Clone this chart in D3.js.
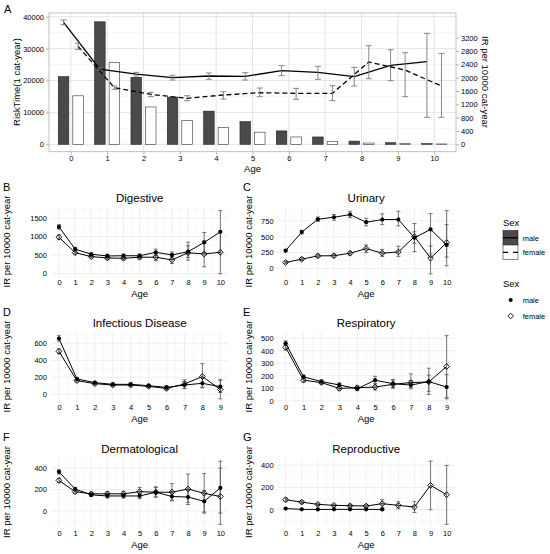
<!DOCTYPE html>
<html>
<head>
<meta charset="utf-8">
<script src="https://cdn.jsdelivr.net/npm/d3@7"></script>
<style>
  body { margin: 0; background: #fff; }
  text { font-family: "Liberation Sans", Arial, sans-serif; fill: #000; }
</style>
</head>
<body>
<svg id="chart" width="550" height="554"></svg>
<script>
/* ---------- data ---------- */
const ages = [0, 1, 2, 3, 4, 5, 6, 7, 8, 9, 10]

// panel A : risk time (bars) and overall IR (lines)
const riskMale = [21200, 38400, 21000, 14800, 10400, 7100, 4200, 2300, 1000, 500, 200]
const riskFemale = [15200, 25700, 11700, 7400, 5300, 3800, 2300, 950, 400, 200, 100]
const irMale = [3660, 2260, 2110, 2000, 2050, 2040, 2210, 2160, 2030, 2370, 2480]
const irMaleLo = [3590, 2220, 2050, 1930, 1950, 1930, 2060, 1950, 1750, 1910, 810]
const irMaleHi = [3730, 2300, 2160, 2070, 2140, 2150, 2360, 2340, 2310, 2840, 3330]
const irFemale = [2940, 1700, 1500, 1380, 1480, 1550, 1530, 1530, 2470, 2230, 1750]
const irFemaleLo = [2850, 1650, 1430, 1310, 1360, 1430, 1350, 1310, 1970, 1430, 810]
const irFemaleHi = [3030, 1750, 1560, 1460, 1580, 1690, 1680, 1760, 2960, 2750, 2730]

// panel B : digestive
const digMale = [1260, 660, 520, 474, 479, 480, 573, 501, 590, 841, 1126]
const digMaleLo = [1200, 610, 480, 430, 430, 430, 490, 420, 430, 570, 560]
const digMaleHi = [1320, 710, 560, 520, 530, 530, 660, 580, 750, 1110, 1700]
const digFemale = [983, 563, 456, 420, 411, 440, 440, 367, 560, 528, 573]
const digFemaleLo = [930, 520, 420, 380, 370, 390, 350, 270, 360, 180, -10]
const digFemaleHi = [1040, 610, 490, 460, 450, 490, 520, 460, 850, 880, 1120]

// panel C : urinary
const uriMale = [281, 573, 775, 806, 848, 728, 770, 770, 484, 614, 370]
const uriMaleLo = [260, 545, 740, 760, 800, 670, 690, 670, 265, 230, 42]
const uriMaleHi = [300, 600, 810, 850, 900, 790, 860, 900, 708, 864, 910]
const uriFemale = [94, 146, 198, 200, 240, 312, 240, 260, 500, 162, 406]
const uriFemaleLo = [80, 125, 175, 175, 210, 250, 190, 190, 396, -85, 180]
const uriFemaleHi = [110, 170, 225, 225, 270, 370, 300, 350, 577, 354, 690]

// panel D : infectious disease (age 0-9)
const infMale = [656, 180, 136, 116, 116, 100, 80, 108, 128, 88]
const infMaleLo = [625, 165, 122, 102, 100, 84, 60, 65, 75, 20]
const infMaleHi = [690, 195, 150, 130, 132, 116, 100, 150, 195, 160]
const infFemale = [505, 160, 124, 108, 108, 92, 68, 120, 208, 56]
const infFemaleLo = [475, 145, 110, 95, 94, 78, 50, 70, 80, -55]
const infFemaleHi = [535, 175, 138, 121, 122, 106, 86, 170, 360, 175]

// panel E : respiratory (age 0-9)
const resMale = [459, 191, 153, 126, 95, 164, 136, 125, 153, 109]
const resMaleLo = [440, 175, 140, 110, 80, 135, 105, 95, 50, 25]
const resMaleHi = [478, 207, 166, 142, 110, 195, 170, 160, 260, 210]
const resFemale = [426, 164, 145, 98, 104, 109, 131, 145, 150, 273]
const resFemaleLo = [405, 150, 132, 85, 90, 85, 100, 105, 75, 15]
const resFemaleHi = [447, 178, 158, 112, 118, 135, 165, 215, 205, 520]

// panel F : dermatological
const derMale = [365, 205, 150, 140, 140, 140, 175, 135, 130, 90, 215]
const derMaleLo = [345, 190, 135, 120, 120, 115, 130, 95, 60, -10, -20]
const derMaleHi = [385, 220, 165, 160, 160, 165, 220, 180, 200, 190, 465]
const derFemale = [285, 180, 160, 160, 160, 180, 175, 175, 205, 165, 135]
const derFemaleLo = [265, 165, 145, 140, 140, 150, 130, 100, 80, -20, -125]
const derFemaleHi = [305, 195, 175, 180, 185, 220, 225, 255, 345, 350, 400]

// panel G : reproductive (male only age 0-6)
const repMale = [10, 3, 2, 3, 3, 3, 2]
const repMaleLo = [5, 0, 0, 0, 0, 0, 0]
const repMaleHi = [15, 6, 5, 6, 6, 6, 5]
const repFemale = [90, 68, 48, 39, 36, 33, 54, 39, 24, 219, 135]
const repFemaleLo = [75, 55, 38, 30, 26, 22, 18, 8, -25, 0, -132]
const repFemaleHi = [105, 80, 58, 48, 46, 44, 90, 72, 75, 437, 399]

const ticksA = [0, 10000, 20000, 30000, 40000]
const ticksIR = [0, 400, 800, 1200, 1600, 2000, 2400, 2800, 3200]

/* ---------- helpers ---------- */
const svg = d3.select("#chart")
const tickCol = "#4d4d4d"

function zip(v, lo, hi) {
  return v.map((d, i) => ({ age: ages[i], v: d, lo: lo[i], hi: hi[i] }))
}

function diamond(s) {
  return "M0," + (-s) + "L" + s + ",0L0," + s + "L" + (-s) + ",0Z"
}

/* ---------- panel A ---------- */
const gA = svg.append("g")
const xA = d3.scaleLinear().domain([-0.6, 10.6]).range([49, 456])
const yL = d3.scaleLinear().domain([-2320, 41160]).range([151.7, 13])
const yR = d3.scaleLinear().domain([-222, 3942]).range([151.7, 13])

// grid
gA.selectAll(".minorA").data([5000, 15000, 25000, 35000]).enter().append("line")
  .attr("x1", xA.range()[0]).attr("x2", xA.range()[1])
  .attr("y1", d => yL(d)).attr("y2", d => yL(d))
  .attr("stroke", "#ececec").attr("stroke-width", 0.5)
gA.selectAll(".majorY").data(ticksA).enter().append("line")
  .attr("x1", xA.range()[0]).attr("x2", xA.range()[1])
  .attr("y1", d => yL(d)).attr("y2", d => yL(d))
  .attr("stroke", "#dedede").attr("stroke-width", 0.8)
gA.selectAll(".majorX").data(ages).enter().append("line")
  .attr("x1", d => xA(d)).attr("x2", d => xA(d))
  .attr("y1", yL.range()[0]).attr("y2", yL.range()[1])
  .attr("stroke", "#dedede").attr("stroke-width", 0.8)

// bars
const bw = xA(0.29) - xA(0)
gA.selectAll(".barM").data(riskMale).enter().append("rect")
  .attr("x", (d, i) => xA(ages[i] - 0.2) - bw / 2)
  .attr("y", d => yL(d)).attr("width", bw)
  .attr("height", d => yL(0) - yL(d))
  .attr("fill", "#4a4a4a").attr("stroke", "#222").attr("stroke-width", 0.6)
gA.selectAll(".barF").data(riskFemale).enter().append("rect")
  .attr("x", (d, i) => xA(ages[i] + 0.2) - bw / 2)
  .attr("y", d => yL(d)).attr("width", bw)
  .attr("height", d => yL(0) - yL(d))
  .attr("fill", "#fff").attr("stroke", "#333").attr("stroke-width", 0.6)

// IR lines
const irM = zip(irMale, irMaleLo, irMaleHi)
const irF = zip(irFemale, irFemaleLo, irFemaleHi)
function drawIR(data, off, dash) {
  const line = d3.line().x(d => xA(d.age + off)).y(d => yR(d.v))
  gA.append("path").datum(data).attr("d", line)
    .attr("fill", "none").attr("stroke", "#000").attr("stroke-width", 1.3)
    .attr("stroke-dasharray", dash)
  const eb = gA.append("g").attr("stroke", "#7a7a7a").attr("stroke-width", 0.9)
  eb.selectAll("line.v").data(data).enter().append("line")
    .attr("x1", d => xA(d.age + off)).attr("x2", d => xA(d.age + off))
    .attr("y1", d => yR(d.lo)).attr("y2", d => yR(d.hi))
  eb.selectAll("line.t").data(data).enter().append("line")
    .attr("x1", d => xA(d.age + off) - 3).attr("x2", d => xA(d.age + off) + 3)
    .attr("y1", d => yR(d.hi)).attr("y2", d => yR(d.hi))
  eb.selectAll("line.b").data(data).enter().append("line")
    .attr("x1", d => xA(d.age + off) - 3).attr("x2", d => xA(d.age + off) + 3)
    .attr("y1", d => yR(d.lo)).attr("y2", d => yR(d.lo))
}
drawIR(irM, -0.2, null)
drawIR(irF, 0.2, "5,3")

// border
gA.append("rect").attr("x", 49).attr("y", 13).attr("width", 407).attr("height", 138.7)
  .attr("fill", "none").attr("stroke", "#b3b3b3").attr("stroke-width", 0.8)

// axes
const fmt = d3.format("d")
const axL = gA.append("g").attr("transform", "translate(49,0)")
  .call(d3.axisLeft(yL).tickValues(ticksA).tickFormat(fmt).tickSize(3).tickPadding(2))
const axR = gA.append("g").attr("transform", "translate(456,0)")
  .call(d3.axisRight(yR).tickValues(ticksIR).tickFormat(fmt).tickSize(3).tickPadding(2))
const axB = gA.append("g").attr("transform", "translate(0,151.7)")
  .call(d3.axisBottom(xA).tickValues(ages).tickFormat(fmt).tickSize(3).tickPadding(0.5))
;[axL, axR, axB].forEach(a => {
  a.select(".domain").remove()
  a.selectAll(".tick line").attr("stroke", "#b3b3b3")
  a.selectAll(".tick text").attr("fill", tickCol).style("font-size", "7.5px")
    .style("font-family", "Liberation Sans, Arial, sans-serif")
})
gA.append("text").attr("transform", "translate(17,82) rotate(-90)")
  .attr("text-anchor", "middle").attr("dy", ".35em").style("font-size", "9.5px")
  .text("RiskTime(1 cat-year)")
gA.append("text").attr("transform", "translate(485,82) rotate(90)")
  .attr("text-anchor", "middle").attr("dy", ".35em").style("font-size", "9.5px")
  .text("IR per 10000 cat-year")
gA.append("text").attr("x", 252.5).attr("y", 168.5).attr("text-anchor", "middle")
  .attr("dy", ".35em").style("font-size", "9.5px").text("Age")
gA.append("text").attr("x", 4).attr("y", 9).attr("dy", ".35em")
  .style("font-size", "11px").text("A")

/* ---------- small panels ---------- */
function drawPanel(p) {
  const g = svg.append("g")
  const maxAge = p.female.length - 1
  const agesP = d3.range(0, maxAge + 1)
  const pad = maxAge * 0.05
  const x = d3.scaleLinear().domain([-pad, maxAge + pad]).range([p.left, p.right])
  const all = p.maleLo.concat(p.maleHi, p.femaleLo, p.femaleHi)
  const ext = d3.extent(all)
  const span = ext[1] - ext[0]
  const y = d3.scaleLinear().domain([ext[0] - span * 0.05, ext[1] + span * 0.05])
    .range([p.top + 69.5, p.top])

  // minor grid
  const minorX = agesP.slice(1).map(d => d - 0.5)
  g.selectAll(".mx").data(minorX).enter().append("line")
    .attr("x1", d => x(d)).attr("x2", d => x(d))
    .attr("y1", y.range()[0]).attr("y2", y.range()[1])
    .attr("stroke", "#f2f2f2").attr("stroke-width", 0.5)
  const step = p.ticks[1] - p.ticks[0]
  const minorY = []
  for (let v = p.ticks[0] - step / 2; v <= y.domain()[1]; v += step) {
    if (v >= y.domain()[0]) minorY.push(v)
  }
  g.selectAll(".my").data(minorY).enter().append("line")
    .attr("x1", x.range()[0]).attr("x2", x.range()[1])
    .attr("y1", d => y(d)).attr("y2", d => y(d))
    .attr("stroke", "#f2f2f2").attr("stroke-width", 0.5)
  // major grid
  g.selectAll(".gx").data(agesP).enter().append("line")
    .attr("x1", d => x(d)).attr("x2", d => x(d))
    .attr("y1", y.range()[0]).attr("y2", y.range()[1])
    .attr("stroke", "#ebebeb").attr("stroke-width", 0.8)
  g.selectAll(".gy").data(p.ticks).enter().append("line")
    .attr("x1", x.range()[0]).attr("x2", x.range()[1])
    .attr("y1", d => y(d)).attr("y2", d => y(d))
    .attr("stroke", "#ebebeb").attr("stroke-width", 0.8)

  const m = zip(p.male, p.maleLo, p.maleHi)
  const f = zip(p.female, p.femaleLo, p.femaleHi)

  const line = d3.line().x(d => x(d.age)).y(d => y(d.v))
  ;[m, f].forEach(s => {
    g.append("path").datum(s).attr("d", line)
      .attr("fill", "none").attr("stroke", "#000").attr("stroke-width", 1)
    const eb = g.append("g").attr("stroke", "#555").attr("stroke-width", 0.8)
    eb.selectAll("line.v").data(s).enter().append("line")
      .attr("x1", d => x(d.age)).attr("x2", d => x(d.age))
      .attr("y1", d => y(d.lo)).attr("y2", d => y(d.hi))
    eb.selectAll("line.t").data(s).enter().append("line")
      .attr("x1", d => x(d.age) - 2).attr("x2", d => x(d.age) + 2)
      .attr("y1", d => y(d.hi)).attr("y2", d => y(d.hi))
    eb.selectAll("line.b").data(s).enter().append("line")
      .attr("x1", d => x(d.age) - 2).attr("x2", d => x(d.age) + 2)
      .attr("y1", d => y(d.lo)).attr("y2", d => y(d.lo))
  })
  g.selectAll(".pm").data(m).enter().append("circle")
    .attr("cx", d => x(d.age)).attr("cy", d => y(d.v)).attr("r", 2.1)
    .attr("fill", "#000")
  g.selectAll(".pf").data(f).enter().append("path")
    .attr("transform", d => "translate(" + x(d.age) + "," + y(d.v) + ")")
    .attr("d", diamond(2.9))
    .attr("fill", "none").attr("stroke", "#000").attr("stroke-width", 0.9)

  // axes
  const ax = g.append("g").attr("transform", "translate(" + p.left + ",0)")
    .call(d3.axisLeft(y).tickValues(p.ticks).tickFormat(fmt).tickSize(0).tickPadding(4))
  const bx = g.append("g").attr("transform", "translate(0," + y.range()[0] + ")")
    .call(d3.axisBottom(x).tickValues(agesP).tickFormat(fmt).tickSize(0).tickPadding(3))
  ;[ax, bx].forEach(a => {
    a.select(".domain").remove()
    a.selectAll(".tick text").attr("fill", tickCol).style("font-size", "7.5px")
      .style("font-family", "Liberation Sans, Arial, sans-serif")
  })
  const cx = (p.left + p.right) / 2
  g.append("text").attr("x", cx).attr("y", p.top - 9.5).attr("dy", ".35em")
    .attr("text-anchor", "middle").style("font-size", "11.5px").text(p.title)
  g.append("text").attr("x", cx).attr("y", y.range()[0] + 17).attr("dy", ".35em")
    .attr("text-anchor", "middle").style("font-size", "9.5px").text("Age")
  g.append("text").attr("transform", "translate(" + p.ytx + "," + (p.top + 34) + ") rotate(-90)")
    .attr("dy", ".35em").attr("text-anchor", "middle").style("font-size", "9.5px")
    .text("IR per 10000 cat-year")
  g.append("text").attr("x", p.lx).attr("y", p.top - 20.5).attr("dy", ".35em")
    .style("font-size", "11px").text(p.letter)
}

const colL = [50.9, 228.4], colR = [277.6, 454.7]
const rows = [207.5, 332.5, 458]

drawPanel({ letter: "B", title: "Digestive", left: colL[0], right: colL[1], top: rows[0], lx: 3, ytx: 7,
  ticks: [0, 500, 1000, 1500], male: digMale, maleLo: digMaleLo, maleHi: digMaleHi,
  female: digFemale, femaleLo: digFemaleLo, femaleHi: digFemaleHi })
drawPanel({ letter: "C", title: "Urinary", left: colR[0], right: colR[1], top: rows[0], lx: 243, ytx: 249,
  ticks: [0, 250, 500, 750], male: uriMale, maleLo: uriMaleLo, maleHi: uriMaleHi,
  female: uriFemale, femaleLo: uriFemaleLo, femaleHi: uriFemaleHi })
drawPanel({ letter: "D", title: "Infectious Disease", left: colL[0], right: colL[1], top: rows[1], lx: 3, ytx: 7,
  ticks: [0, 200, 400, 600], male: infMale, maleLo: infMaleLo, maleHi: infMaleHi,
  female: infFemale, femaleLo: infFemaleLo, femaleHi: infFemaleHi })
drawPanel({ letter: "E", title: "Respiratory", left: colR[0], right: colR[1], top: rows[1], lx: 243, ytx: 249,
  ticks: [0, 100, 200, 300, 400, 500], male: resMale, maleLo: resMaleLo, maleHi: resMaleHi,
  female: resFemale, femaleLo: resFemaleLo, femaleHi: resFemaleHi })
drawPanel({ letter: "F", title: "Dermatological", left: colL[0], right: colL[1], top: rows[2], lx: 3, ytx: 7,
  ticks: [0, 200, 400], male: derMale, maleLo: derMaleLo, maleHi: derMaleHi,
  female: derFemale, femaleLo: derFemaleLo, femaleHi: derFemaleHi })
drawPanel({ letter: "G", title: "Reproductive", left: colR[0], right: colR[1], top: rows[2], lx: 243, ytx: 249,
  ticks: [0, 200, 400], male: repMale, maleLo: repMaleLo, maleHi: repMaleHi,
  female: repFemale, femaleLo: repFemaleLo, femaleHi: repFemaleHi })

/* ---------- legends ---------- */
const lg = svg.append("g")
lg.append("text").attr("x", 503).attr("y", 223).attr("dy", ".35em").style("font-size", "9.5px").text("Sex")
lg.append("rect").attr("x", 503).attr("y", 230.5).attr("width", 15).attr("height", 14.5)
  .attr("fill", "#4a4a4a").attr("stroke", "#222").attr("stroke-width", 0.6)
lg.append("line").attr("x1", 503).attr("x2", 518).attr("y1", 237.8).attr("y2", 237.8)
  .attr("stroke", "#000").attr("stroke-width", 1.3)
lg.append("rect").attr("x", 503).attr("y", 245).attr("width", 15).attr("height", 14.5)
  .attr("fill", "#fff").attr("stroke", "#333").attr("stroke-width", 0.6)
lg.append("line").attr("x1", 503).attr("x2", 518).attr("y1", 252.3).attr("y2", 252.3)
  .attr("stroke", "#000").attr("stroke-width", 1.3).attr("stroke-dasharray", "5,5")
lg.append("text").attr("x", 522.7).attr("y", 238).attr("dy", ".35em").attr("fill", "#000")
  .style("font-size", "7.5px").text("male")
lg.append("text").attr("x", 522.7).attr("y", 252.5).attr("dy", ".35em").attr("fill", "#000")
  .style("font-size", "7.5px").text("female")

lg.append("text").attr("x", 503).attr("y", 283.5).attr("dy", ".35em").style("font-size", "9.5px").text("Sex")
lg.append("circle").attr("cx", 510.7).attr("cy", 300).attr("r", 2).attr("fill", "#000")
lg.append("path").attr("transform", "translate(510.7,316)").attr("d", diamond(2.8))
  .attr("fill", "none").attr("stroke", "#000").attr("stroke-width", 0.9)
lg.append("text").attr("x", 522.7).attr("y", 300).attr("dy", ".35em").attr("fill", "#000")
  .style("font-size", "7.5px").text("male")
lg.append("text").attr("x", 522.7).attr("y", 316).attr("dy", ".35em").attr("fill", "#000")
  .style("font-size", "7.5px").text("female")
</script>
</body>
</html>
